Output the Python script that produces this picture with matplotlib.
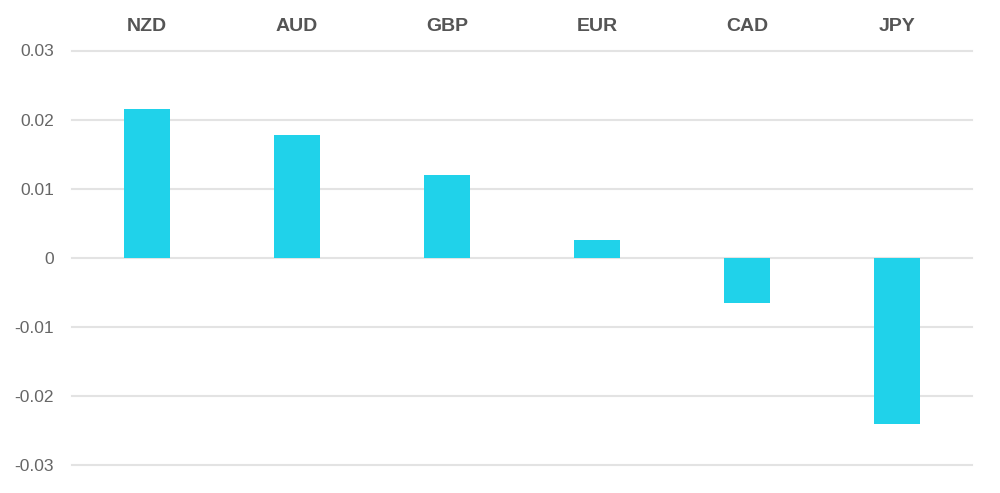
import matplotlib
matplotlib.use("Agg")
import matplotlib.pyplot as plt
import numpy as np

# data
currencies = ["NZD", "AUD", "GBP", "EUR", "CAD", "JPY"]
values = [0.0215, 0.0178, 0.0120, 0.0025, -0.0066, -0.0240]
y_ticks = [-0.03, -0.02, -0.01, 0, 0.01, 0.02, 0.03]
y_tick_labels = ["-0.03", "-0.02", "-0.01", "0", "0.01", "0.02", "0.03"]

bar_color = "#20D2EA"
grid_color = "#E3E3E3"

plt.rcParams["font.family"] = ["Liberation Sans", "DejaVu Sans"]

fig = plt.figure(figsize=(10, 4.93), dpi=100)
H = 493.0
top_px, bot_px = 50.5, 465.0
ax = fig.add_axes([0.072, 1 - bot_px / H, 0.900, (bot_px - top_px) / H])

x = np.arange(len(currencies))
ax.bar(x, values, width=0.31, color=bar_color, zorder=2)

ax.set_xlim(-0.5, len(currencies) - 0.5)
ax.set_ylim(-0.03, 0.03)

ax.set_yticks(y_ticks)
ax.set_yticklabels(y_tick_labels)
ax.yaxis.grid(True, color=grid_color, linewidth=1.5, zorder=0)
for gl in ax.get_ygridlines():
    gl.set_clip_on(False)

ax.xaxis.set_ticks_position("top")
ax.set_xticks(x)
ax.set_xticklabels(currencies, fontweight="bold")

ax.tick_params(axis="x", length=0, pad=11, labelsize=14, labelcolor="#555555")
ax.tick_params(axis="y", length=0, pad=13, labelsize=12.5, labelcolor="#666666")

for s in ax.spines.values():
    s.set_visible(False)

fig.savefig("out.png", dpi=100)
